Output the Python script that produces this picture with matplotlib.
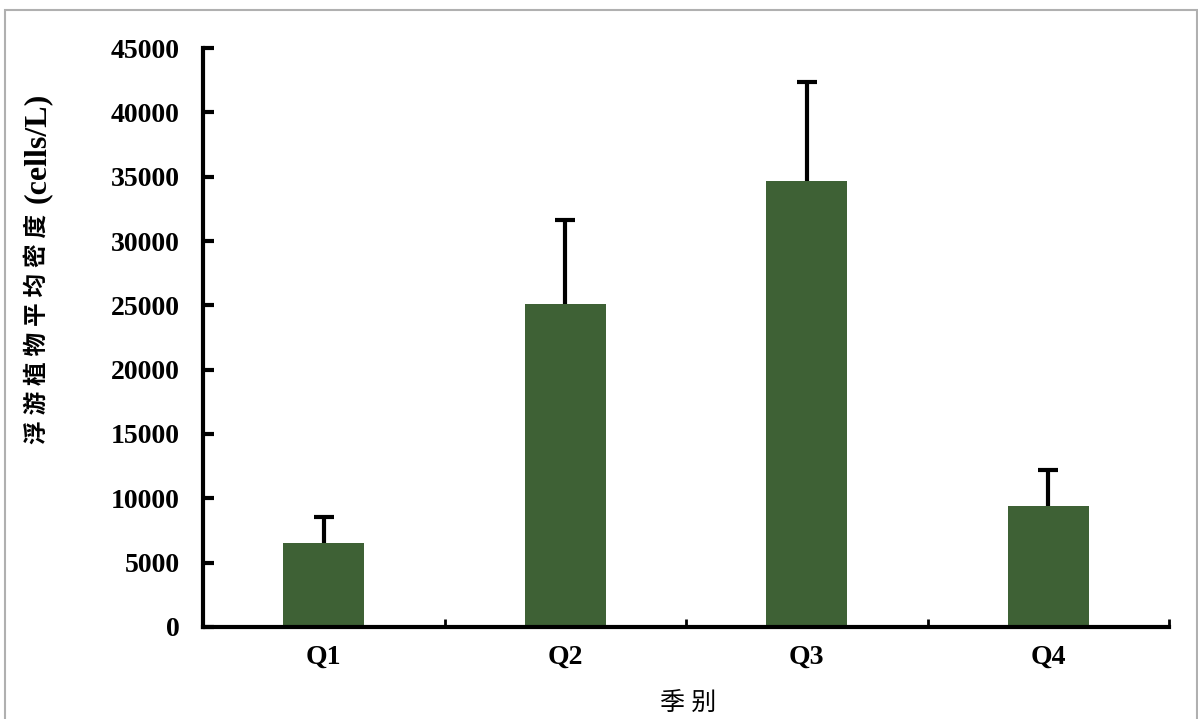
import matplotlib
matplotlib.use('Agg')
import matplotlib.pyplot as plt
from matplotlib.patches import Rectangle
import numpy as np

# data
seasons = ['Q1', 'Q2', 'Q3', 'Q4']
density = [6550, 25100, 34700, 9400]
err_up = [2000, 6550, 7650, 2800]

plt.rcParams['font.family'] = ['Liberation Serif', 'Noto Sans CJK SC']
plt.rcParams['font.weight'] = 'bold'

fig = plt.figure(figsize=(11.98, 7.19), dpi=100)
ax = fig.add_axes([0.1695, 0.128, 0.8063, 0.8052])

x = np.arange(len(seasons))
ax.bar(x, density, width=0.335, color='#3e6135', zorder=2)
_, caps, _ = ax.errorbar(x, density, yerr=[np.zeros(len(err_up)), err_up], fmt='none',
                         ecolor='black', elinewidth=3, capsize=7.5, capthick=3, zorder=1)
# only the upper cap is drawn in the original
caps[0].set_visible(False)

ax.set_xlim(-0.5, 3.5)
ax.set_ylim(0, 45000)
ax.set_yticks(np.arange(0, 45001, 5000))
ax.set_xticks(x)
ax.set_xticklabels(seasons, fontsize=20, fontweight='bold')
ax.set_xticks(np.arange(0.5, 3.6, 1), minor=True)
ax.tick_params(axis='x', which='major', length=0, pad=13)
ax.tick_params(axis='x', which='minor', direction='in', length=6, width=2)
ax.tick_params(axis='y', direction='in', length=8, width=3, labelsize=20, pad=17)
for lab in ax.get_yticklabels():
    lab.set_fontweight('bold')

for s in ['top', 'right']:
    ax.spines[s].set_visible(False)
ax.spines['left'].set_linewidth(3)
ax.spines['bottom'].set_linewidth(3)

# y label: chinese part and unit part, the unit is set larger like the original
fig.text(0.031, 0.543, '浮 游 植 物 平 均 密 度', rotation=90, ha='center', va='center',
         fontsize=17, fontweight='bold')
fig.text(0.031, 0.794, '(cells/L)', rotation=90, ha='center', va='center',
         fontsize=23, fontweight='bold')
fig.text(0.574, 0.022, '季 别', ha='center', va='center', fontsize=18, fontweight='normal')

# thin gray frame around the whole picture
fig.patches.append(Rectangle((0.004, -0.01), 0.995, 0.996, transform=fig.transFigure,
                             fill=False, edgecolor='#b0b0b0', linewidth=1.5))

plt.savefig('out.png', dpi=100)
